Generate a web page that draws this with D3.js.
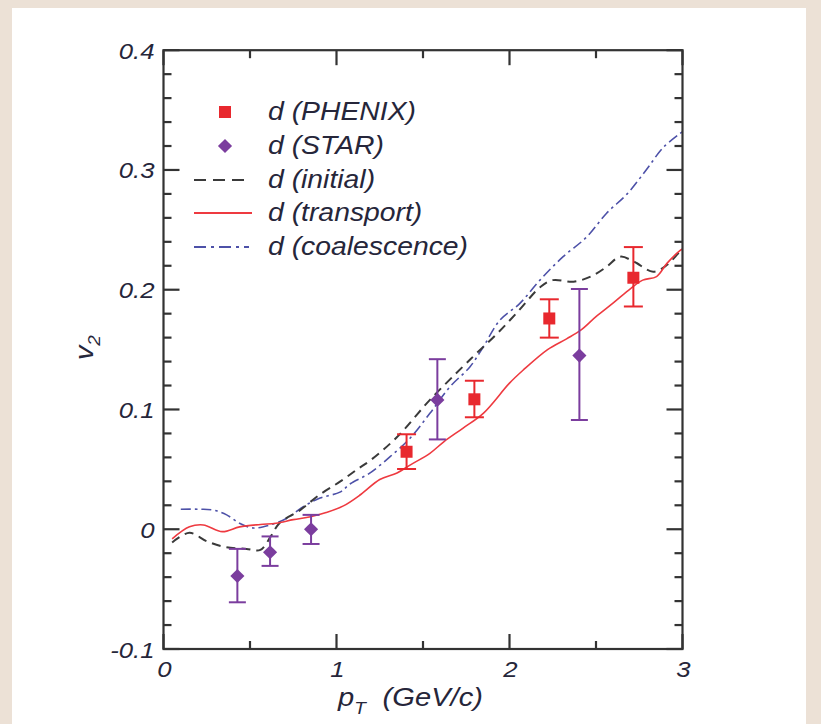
<!DOCTYPE html>
<html><head><meta charset="utf-8">
<script src="https://cdn.jsdelivr.net/npm/d3@7"></script>
<style>html,body{margin:0;padding:0;background:#ece1d6;}svg{display:block;}</style>
</head><body>
<svg id="chart" width="821" height="724"></svg>
<script>
// ---- data ----
const phenixPt = [1.405, 1.797, 2.23, 2.716];
const phenixV2 = [0.0647, 0.1085, 0.176, 0.210];
const phenixLo = [0.0503, 0.0935, 0.160, 0.186];
const phenixHi = [0.0793, 0.124, 0.192, 0.2356];

const starPt = [0.427, 0.616, 0.853, 1.583, 2.404];
const starV2 = [-0.039, -0.0192, 0.000, 0.108, 0.145];
const starLo = [-0.061, -0.0306, -0.0123, 0.075, 0.0912];
const starHi = [-0.0164, -0.006, 0.012, 0.142, 0.2006];

const initialPt = [0.05,0.15,0.25,0.36,0.48,0.56,0.62,0.67,0.79,0.9,1.02,1.12,1.2,1.35,1.54,1.73,1.81,1.93,2.05,2.18,2.25,2.37,2.47,2.56,2.64,2.72,2.83,2.91,2.985,3.0];
const initialV2 = [-0.011,-0.003,-0.010,-0.015,-0.0164,-0.0173,-0.006,0.005,0.016,0.0286,0.0397,0.050,0.058,0.077,0.108,0.1357,0.147,0.1636,0.182,0.2025,0.208,0.2067,0.211,0.219,0.2276,0.2234,0.215,0.2206,0.2317,0.233];

const transportPt = [0.05,0.15,0.23,0.34,0.44,0.56,0.65,0.75,0.85,0.94,1.04,1.14,1.25,1.35,1.43,1.54,1.62,1.73,1.85,2.0,2.08,2.22,2.33,2.41,2.5,2.6,2.7,2.77,2.85,2.91,2.985,3.0];
const transportV2 = [-0.008,0.002,0.0036,-0.002,0.002,0.004,0.005,0.008,0.0105,0.014,0.0195,0.029,0.0415,0.047,0.054,0.0634,0.073,0.0843,0.097,0.122,0.133,0.15,0.159,0.166,0.1775,0.189,0.201,0.208,0.211,0.222,0.2326,0.234];

const coalPt = [0.1,0.21,0.29,0.365,0.44,0.52,0.616,0.71,0.81,0.905,1.02,1.08,1.19,1.31,1.425,1.54,1.656,1.772,1.849,1.945,2.06,2.176,2.31,2.446,2.56,2.68,2.79,2.89,3.0];
const coalV2 = [0.0167,0.0167,0.016,0.012,0.005,0.001,0.0036,0.009,0.019,0.026,0.031,0.038,0.0467,0.0606,0.076,0.0968,0.119,0.1357,0.1524,0.1747,0.1886,0.208,0.2276,0.244,0.2637,0.280,0.30,0.319,0.332];

const xMajor = [0, 1, 2, 3];
const xMinor = [0.5, 1.5, 2.5];
const yMajor = [-0.1, 0, 0.1, 0.2, 0.3, 0.4];
const yTickLabels = ["-0.1", "0", "0.1", "0.2", "0.3", "0.4"];
const yMinorTicks = [-0.08,-0.06,-0.04,-0.02,0.02,0.04,0.06,0.08,0.12,0.14,0.16,0.18,0.22,0.24,0.26,0.28,0.32,0.34,0.36,0.38];
const legendLabels = ["d (PHENIX)", "d (STAR)", "d (initial)", "d (transport)", "d (coalescence)"];

// ---- drawing ----
const svg = d3.select("#chart");
const L = 163.5, R = 682.5, T = 50.2, B = 649;
const x = d3.scaleLinear().domain([0, 3]).range([L, R]);
const y = d3.scaleLinear().domain([-0.1, 0.4]).range([B, T]);

const RED = "#e8282e", PURPLE = "#7b3d9e", AX = "#333";
const FONT = "'Liberation Sans', Arial, Helvetica, sans-serif";
const TXT = "#26263a";

svg.append("rect").attr("x", 12).attr("y", 8).attr("width", 794).attr("height", 716).attr("fill", "#fff");

svg.append("defs").append("clipPath").attr("id", "clip")
  .append("rect").attr("x", L).attr("y", T).attr("width", R - L).attr("height", B - T);

const line = d3.line().x(d => x(d[0])).y(d => y(d[1])).curve(d3.curveCatmullRom.alpha(0.5));
const plot = svg.append("g").attr("clip-path", "url(#clip)");

plot.append("path").datum(d3.zip(coalPt, coalV2)).attr("d", line)
  .attr("fill", "none").attr("stroke", "#4d51a8").attr("stroke-width", 1.6)
  .attr("stroke-dasharray", "10,4,2.5,4");
plot.append("path").datum(d3.zip(initialPt, initialV2)).attr("d", line)
  .attr("fill", "none").attr("stroke", "#3a3a3a").attr("stroke-width", 2)
  .attr("stroke-dasharray", "9,6");
plot.append("path").datum(d3.zip(transportPt, transportV2)).attr("d", line)
  .attr("fill", "none").attr("stroke", "#ee3a40").attr("stroke-width", 1.6);

// error bars + markers
function errBars(pts, lo, hi, color, cap) {
  const g = svg.append("g").attr("stroke", color).attr("stroke-width", 2).attr("fill", "none");
  pts.forEach((p, i) => {
    g.append("line").attr("x1", x(p)).attr("x2", x(p)).attr("y1", y(lo[i])).attr("y2", y(hi[i]));
    g.append("line").attr("x1", x(p) - cap).attr("x2", x(p) + cap).attr("y1", y(lo[i])).attr("y2", y(lo[i]));
    g.append("line").attr("x1", x(p) - cap).attr("x2", x(p) + cap).attr("y1", y(hi[i])).attr("y2", y(hi[i]));
  });
}
errBars(phenixPt, phenixLo, phenixHi, RED, 9.5);
errBars(starPt, starLo, starHi, PURPLE, 8.5);

const sq = d3.symbol().type(d3.symbolSquare).size(144);
const dia = d3.symbol().type(d3.symbolSquare).size(100);
svg.append("g").selectAll("path").data(d3.zip(phenixPt, phenixV2)).join("path")
  .attr("d", sq).attr("transform", d => `translate(${x(d[0])},${y(d[1])})`).attr("fill", RED);
svg.append("g").selectAll("path").data(d3.zip(starPt, starV2)).join("path")
  .attr("d", dia).attr("transform", d => `translate(${x(d[0])},${y(d[1])}) rotate(45)`).attr("fill", PURPLE);

// frame + ticks
const ax = svg.append("g").attr("stroke", AX).attr("stroke-width", 2.2);
ax.append("rect").attr("x", L).attr("y", T).attr("width", R - L).attr("height", B - T).attr("fill", "none");
xMajor.concat(xMinor).forEach(v => {
  const len = xMajor.includes(v) ? 15 : 8;
  ax.append("line").attr("x1", x(v)).attr("x2", x(v)).attr("y1", B).attr("y2", B - len);
  ax.append("line").attr("x1", x(v)).attr("x2", x(v)).attr("y1", T).attr("y2", T + len);
});
yMajor.concat(yMinorTicks).forEach(v => {
  const len = yMajor.includes(v) ? 16 : 8;
  ax.append("line").attr("x1", L).attr("x2", L + len).attr("y1", y(v)).attr("y2", y(v));
  ax.append("line").attr("x1", R).attr("x2", R - len).attr("y1", y(v)).attr("y2", y(v));
});

// text helper (horizontally stretched italic)
function txt(parent, px, py, str, size, anchor, sx) {
  return parent.append("text").attr("transform", `translate(${px},${py}) scale(${sx},1)`)
    .attr("font-family", FONT).attr("font-style", "italic").attr("font-size", size)
    .attr("fill", TXT).attr("text-anchor", anchor).text(str);
}

const tl = svg.append("g");
yMajor.forEach((v, i) => {
  txt(tl, L - 9, v === -0.1 ? y(v) + 9 : y(v) + 8.5, yTickLabels[i], 23, "end", 1.12);
});
xMajor.forEach(v => {
  txt(tl, x(v) + 1, 677, String(v), 23, "middle", 1.12);
});

// axis titles
const xt = svg.append("text").attr("transform", "translate(338,706) scale(1.12,1)")
  .attr("font-family", FONT).attr("font-style", "italic").attr("font-size", 26).attr("fill", TXT);
xt.append("tspan").text("p");
xt.append("tspan").attr("font-size", 17).attr("dy", 8).text("T");
xt.append("tspan").attr("dy", -8).attr("dx", 15).text("(GeV/c)");

const yt = svg.append("text").attr("transform", "translate(93,360) rotate(-90) scale(1.1,1)")
  .attr("font-family", FONT).attr("font-style", "italic").attr("font-size", 26).attr("fill", TXT);
yt.append("tspan").text("v");
yt.append("tspan").attr("font-size", 17).attr("dy", 7).text("2");

// legend
const rows = [112, 146, 180, 213, 247];
const lg = svg.append("g");
lg.append("path").attr("d", sq).attr("transform", `translate(225,${rows[0]})`).attr("fill", RED);
lg.append("path").attr("d", dia).attr("transform", `translate(225,${rows[1]}) rotate(45)`).attr("fill", PURPLE);
lg.append("line").attr("x1", 194).attr("x2", 249).attr("y1", rows[2]).attr("y2", rows[2])
  .attr("stroke", "#3a3a3a").attr("stroke-width", 2).attr("stroke-dasharray", "12,7");
lg.append("line").attr("x1", 194).attr("x2", 252).attr("y1", rows[3]).attr("y2", rows[3])
  .attr("stroke", "#ee3a40").attr("stroke-width", 2);
lg.append("line").attr("x1", 194).attr("x2", 249).attr("y1", rows[4]).attr("y2", rows[4])
  .attr("stroke", "#4d51a8").attr("stroke-width", 2).attr("stroke-dasharray", "12,5,3,5");
legendLabels.forEach((t, i) => {
  txt(lg, 268, rows[i] + 8, t, 26, "start", 1.09);
});
</script>
</body></html>
